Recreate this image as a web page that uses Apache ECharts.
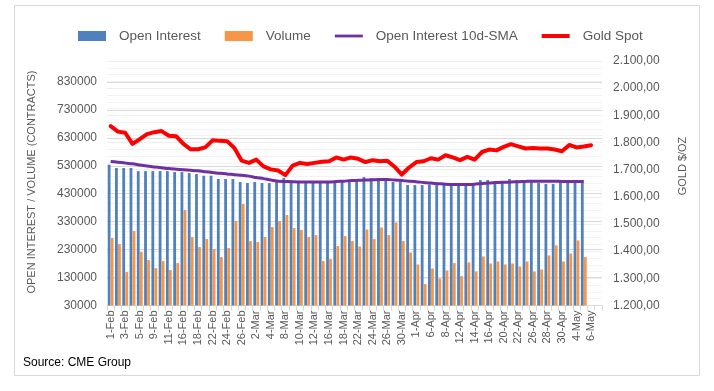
<!DOCTYPE html>
<html>
<head>
<meta charset="utf-8">
<script src="https://cdn.jsdelivr.net/npm/echarts@6/dist/echarts.min.js"></script>
<style>
html,body{margin:0;padding:0;background:#fff;}
#chart{width:714px;height:391px;}
</style>
</head>
<body>
<div id="chart"></div>
<script>
// ---- Data ----
const categories = [
  '1-Feb','2-Feb','3-Feb','4-Feb','5-Feb','8-Feb','9-Feb','10-Feb','11-Feb','12-Feb',
  '16-Feb','17-Feb','18-Feb','19-Feb','22-Feb','23-Feb','24-Feb','25-Feb','26-Feb',
  '1-Mar','2-Mar','3-Mar','4-Mar','5-Mar','8-Mar','9-Mar','10-Mar','11-Mar','12-Mar',
  '15-Mar','16-Mar','17-Mar','18-Mar','19-Mar','22-Mar','23-Mar','24-Mar','25-Mar','26-Mar',
  '29-Mar','30-Mar','31-Mar','1-Apr','5-Apr','6-Apr','7-Apr','8-Apr','9-Apr',
  '12-Apr','13-Apr','14-Apr','15-Apr','16-Apr','19-Apr','20-Apr','21-Apr','22-Apr','23-Apr',
  '26-Apr','27-Apr','28-Apr','29-Apr','30-Apr','3-May','4-May','5-May','6-May','7-May'
];
const openInterest = [
  534000,522000,522000,522000,511000,511000,511000,511000,511000,507600,
  507600,504000,500500,494400,494400,482600,482600,482600,471800,
  468200,471800,468200,468200,471800,486100,471800,471800,471800,471800,
  471800,471800,471800,476500,476500,476500,489700,486100,480000,476500,
  471800,471800,461100,461100,461100,463200,461100,463200,463200,
  463200,461100,461100,479000,479000,474000,474000,482600,479000,479000,
  476500,468200,464600,464600,471800,471800,471800,471800,null,null
];
const volume = [
  271300,249800,149600,296400,221200,192500,163900,189000,156700,181800,
  371600,274900,239100,267700,231900,203300,235500,332200,393000,
  260300,257000,274900,310700,332200,353700,307100,300000,274900,282000,
  189000,196100,242700,278500,260600,241200,302100,267700,309300,282100,
  327200,260600,219800,176800,106600,162500,126700,155300,181800,
  135300,184000,151700,205400,180400,187500,176800,180400,169600,187500,
  151700,158900,209000,244800,187500,216200,262700,203300,null,null
];
const oiSma = [
  545600,543000,540000,537000,533000,529000,526000,523000,520000,518000,
  516000,514000,512000,509000,506000,503000,501000,498000,496000,
  493000,488000,484000,479000,475000,474000,473000,472000,472000,472000,
  472000,472000,474000,475000,477000,478000,479000,480000,481000,481000,
  479000,477000,475000,473000,470000,468000,466000,464000,463000,
  463000,463000,464000,467000,468000,470000,471000,472000,473000,474000,
  475000,475000,475000,475000,474000,474000,474000,474000,null,null
];
const goldSpot = [
  1860,1840,1836,1795,1812,1831,1838,1842,1825,1823,
  1795,1775,1775,1782,1808,1806,1805,1780,1733,
  1725,1737,1712,1701,1697,1680,1715,1725,1721,1725,
  1729,1731,1745,1737,1745,1740,1728,1735,1731,1733,
  1711,1682,1708,1728,1731,1742,1737,1753,1745,
  1735,1747,1737,1765,1774,1771,1784,1794,1786,1778,
  1780,1778,1778,1774,1768,1791,1782,1785,1790,null
];
const leftTicks = { min: 30000, max: 905000, step: 100000 };
const rightTicks = { min: 1200, max: 2100, step: 100 };

const FONT = '"Liberation Sans", Arial, sans-serif';
const GREY = '#595959';

function euro(v) {
  const s = Math.round(v).toString().replace(/\B(?=(\d{3})+(?!\d))/g, '.');
  return s + ',00';
}

const chart = echarts.init(document.getElementById('chart'), null, { renderer: 'canvas' });
chart.setOption({
  animation: false,
  backgroundColor: '#ffffff',
  textStyle: { fontFamily: FONT },
  legend: {
    top: 29,
    left: 78,
    padding: 0,
    itemWidth: 28,
    itemHeight: 10,
    itemGap: 24,
    textStyle: { color: GREY, fontSize: 13.5, fontFamily: FONT, padding: [0, 0, 0, 8] },
    data: [
      { name: 'Open Interest', icon: 'rect' },
      { name: 'Volume', icon: 'rect' },
      { name: 'Open Interest 10d-SMA', icon: 'path://M0,0 L30,0 L30,3 L0,3 Z', itemStyle: { color: '#7030A0' } },
      { name: 'Gold Spot', icon: 'path://M0,0 L28,0 L28,4 L0,4 Z', itemStyle: { color: '#FF0000' } }
    ]
  },
  grid: { left: 107, right: 112, top: 61, bottom: 85.5, containLabel: false },
  xAxis: {
    type: 'category',
    data: categories,
    boundaryGap: true,
    axisLine: { show: true, lineStyle: { color: '#d9d9d9', width: 1 } },
    axisTick: { show: true, interval: 0, length: 5, lineStyle: { color: '#d9d9d9' } },
    axisLabel: { interval: 1, rotate: 90, fontSize: 11, color: GREY, margin: 5, fontFamily: FONT },
    splitLine: { show: false }
  },
  yAxis: [
    {
      type: 'value',
      min: leftTicks.min, max: leftTicks.max, interval: leftTicks.step,
      axisLine: { show: false }, axisTick: { show: false },
      axisLabel: { fontSize: 12, color: GREY, margin: 10, showMaxLabel: false, fontFamily: FONT,
                   formatter: function (v) { return String(Math.round(v)); } },
      splitLine: { show: true, lineStyle: { color: '#d9d9d9', width: 1 } }
    },
    {
      type: 'value',
      min: rightTicks.min, max: rightTicks.max, interval: rightTicks.step,
      axisLine: { show: false }, axisTick: { show: false },
      axisLabel: { fontSize: 12, color: GREY, margin: 11, formatter: euro, fontFamily: FONT },
      splitLine: { show: true, lineStyle: { color: '#eeeeee', width: 1 } },
      minorTick: { show: false, splitNumber: 4 },
      minorSplitLine: { show: true, lineStyle: { color: '#f3f3f3', width: 1 } }
    }
  ],
  series: [
    {
      name: 'Open Interest', type: 'bar', yAxisIndex: 0, data: openInterest,
      barWidth: 2.8, barGap: '8%',
      itemStyle: { color: '#4F81BD' }
    },
    {
      name: 'Volume', type: 'bar', yAxisIndex: 0, data: volume,
      barWidth: 2.8,
      itemStyle: { color: '#F79646' }
    },
    {
      name: 'Open Interest 10d-SMA', type: 'line', yAxisIndex: 0, data: oiSma,
      symbol: 'none', smooth: 0.2, z: 5,
      lineStyle: { color: '#7030A0', width: 3 }, itemStyle: { color: '#7030A0' }
    },
    {
      name: 'Gold Spot', type: 'line', yAxisIndex: 1, data: goldSpot,
      symbol: 'none', z: 6,
      lineStyle: { color: '#FF0000', width: 4, join: 'round', cap: 'round' }, itemStyle: { color: '#FF0000' }
    }
  ],
  graphic: [
    {
      type: 'rect', silent: true, z: -1,
      shape: { x: 14.5, y: 5.5, width: 685, height: 370 },
      style: { fill: 'none', stroke: '#d9d9d9', lineWidth: 1 }
    },
    {
      type: 'text', x: 32, y: 182, rotation: Math.PI / 2,
      style: { text: 'OPEN INTEREST / VOLUME (CONTRACTS)', fill: GREY, font: '11px ' + FONT, align: 'center', verticalAlign: 'middle' }
    },
    {
      type: 'text', x: 683, y: 166, rotation: Math.PI / 2,
      style: { text: 'GOLD $/OZ', fill: GREY, font: '11px ' + FONT, align: 'center', verticalAlign: 'middle' }
    },
    {
      type: 'text', x: 23, y: 363,
      style: { text: 'Source: CME Group', fill: '#000000', font: '12px ' + FONT, align: 'left', verticalAlign: 'middle' }
    }
  ]
});
</script>
</body>
</html>
